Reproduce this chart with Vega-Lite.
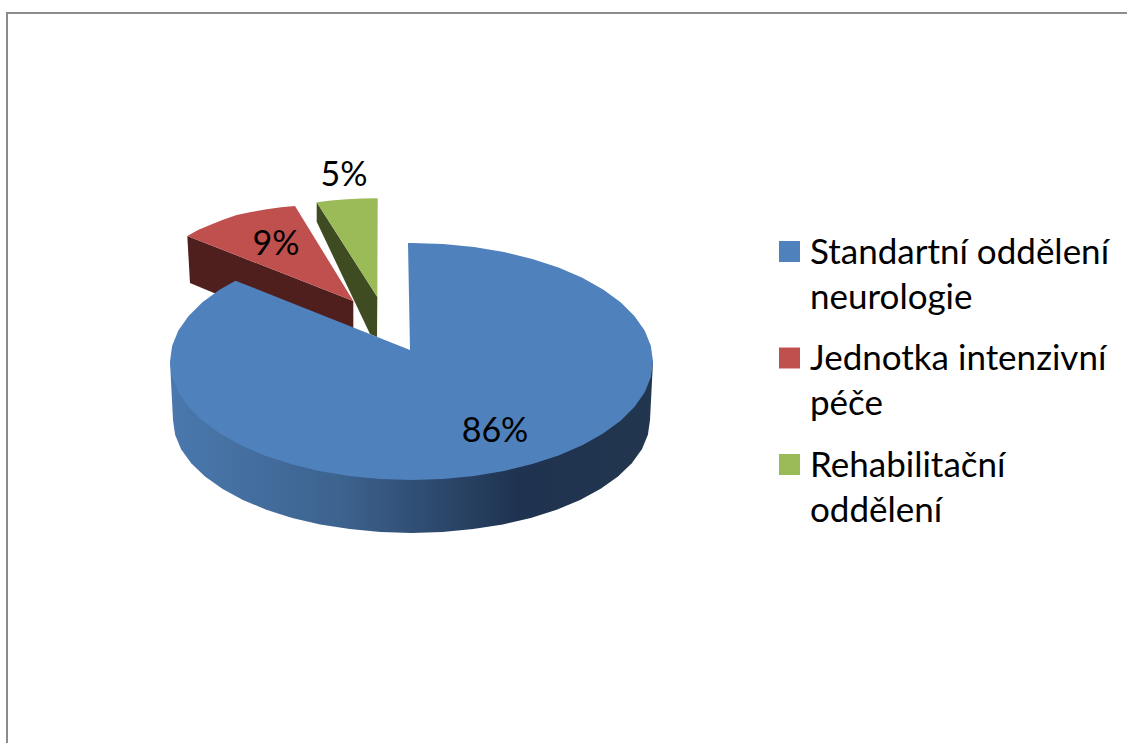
{
"$schema":"https://vega.github.io/schema/vega-lite/v6.json",
"width":1127,"height":743,"padding":0,
"autosize":{"type":"none"},
"background":"white",
"config":{"view":{"stroke":null}},
"encoding":{
"x":{"field":"x","type":"quantitative","axis":null,"scale":{"domain":[-411.5,715.5],"nice":false,"zero":false}},
"y":{"field":"y","type":"quantitative","axis":null,"scale":{"domain":[-381.5,361.5],"nice":false,"zero":false}},
"order":{"field":"i","type":"quantitative"}
},
"layer":[
{"data":{"values":[{"i":1,"x":-404.5,"y":-381.5},{"i":2,"x":-404.5,"y":348.5},{"i":3,"x":715.5,"y":348.5}]},
"mark":{"type":"line","stroke":"#8c8c8c","strokeWidth":2}},
{"data":{"values":[{"i":1,"x":-94.8,"y":159.2},{"i":2,"x":-94.8,"y":139.8},{"i":3,"x":-41.5,"y":27.5},{"i":4,"x":-34.5,"y":24.5},{"i":5,"x":-34.2,"y":64.5}]},
"mark":{"type":"line","filled":true,"fill":"#3f4b21","stroke":null}},
{"data":{"values":[{"oddeleni":"Rehabilitační oddělení","i":1,"x":-94.8,"y":159.2},{"oddeleni":"Rehabilitační oddělení","i":2,"x":-80.5,"y":161},{"oddeleni":"Rehabilitační oddělení","i":3,"x":-64.8,"y":162.2},{"oddeleni":"Rehabilitační oddělení","i":4,"x":-49.5,"y":162.9},{"oddeleni":"Rehabilitační oddělení","i":5,"x":-33.8,"y":163.2},{"oddeleni":"Rehabilitační oddělení","i":6,"x":-34.2,"y":64.5}]},
"mark":{"type":"line","filled":true,"stroke":null},
"encoding":{"color":{"field":"oddeleni","type":"nominal","scale":{"domain":["Standartní oddělení neurologie","Jednotka intenzivní péče","Rehabilitační oddělení"],"range":["#4f81bd","#c0504d","#9bbb59"]},
"legend":{"title":null,"orient":"none","legendX":772,"legendY":234,"padding":0,"symbolType":"square","symbolSize":441,"symbolStrokeWidth":0,"labelFont":"Lato","labelFontSize":35,"labelColor":"black","labelOffset":3,"labelLimit":400,"rowPadding":24.5,"labelBaseline":"top",
"encoding":{"labels":{"lineHeight":{"value":45},"dy":{"value":-16}}},
"labelExpr":"datum.label == 'Standartní oddělení neurologie' ? ['Standartní oddělení','neurologie'] : datum.label == 'Jednotka intenzivní péče' ? ['Jednotka intenzivní','péče'] : ['Rehabilitační','oddělení']"}}}},
{"data":{"values":[{"i":1,"x":-224.2,"y":125.5},{"i":2,"x":-221.5,"y":78.5},{"i":3,"x":-58.2,"y":10.5},{"i":4,"x":-58.2,"y":60.5}]},
"mark":{"type":"line","filled":true,"fill":"#4f1f1e","stroke":null}},
{"data":{"values":[{"oddeleni":"Jednotka intenzivní péče","i":1,"x":-224.2,"y":125.5},{"oddeleni":"Jednotka intenzivní péče","i":2,"x":-213.5,"y":131.5},{"oddeleni":"Jednotka intenzivní péče","i":3,"x":-201.5,"y":136.5},{"oddeleni":"Jednotka intenzivní péče","i":4,"x":-188.5,"y":141.8},{"oddeleni":"Jednotka intenzivní péče","i":5,"x":-174.8,"y":146.5},{"oddeleni":"Jednotka intenzivní péče","i":6,"x":-160.5,"y":149.5},{"oddeleni":"Jednotka intenzivní péče","i":7,"x":-144.8,"y":152.2},{"oddeleni":"Jednotka intenzivní péče","i":8,"x":-130.5,"y":154.2},{"oddeleni":"Jednotka intenzivní péče","i":9,"x":-116.5,"y":155.5},{"oddeleni":"Jednotka intenzivní péče","i":10,"x":-58.2,"y":60.5}]},
"mark":{"type":"line","filled":true,"stroke":null},
"encoding":{"color":{"field":"oddeleni","type":"nominal"}}},
{"data":{"values":[{"i":1,"x":-241.5,"y":0},{"i":2,"x":-238.5,"y":-58.5},{"i":3,"x":-236.4,"y":-73.2},{"i":4,"x":-230.4,"y":-87.7},{"i":5,"x":-220.3,"y":-101.7},{"i":6,"x":-206.5,"y":-115},{"i":7,"x":-189.2,"y":-127.3},{"i":8,"x":-168.6,"y":-138.4},{"i":9,"x":-145.2,"y":-148.2},{"i":10,"x":-119.3,"y":-156.4},{"i":11,"x":-91.3,"y":-162.9},{"i":12,"x":-61.7,"y":-167.6},{"i":13,"x":-31.1,"y":-170.5},{"i":14,"x":0,"y":-171.5},{"i":15,"x":31.1,"y":-170.5},{"i":16,"x":61.7,"y":-167.6},{"i":17,"x":91.3,"y":-162.9},{"i":18,"x":119.3,"y":-156.4},{"i":19,"x":145.2,"y":-148.2},{"i":20,"x":168.6,"y":-138.4},{"i":21,"x":189.2,"y":-127.3},{"i":22,"x":206.5,"y":-115},{"i":23,"x":220.3,"y":-101.7},{"i":24,"x":230.4,"y":-87.7},{"i":25,"x":236.4,"y":-73.2},{"i":26,"x":238.5,"y":-58.5},{"i":27,"x":241.5,"y":0}]},
"mark":{"type":"line","filled":true,"stroke":null,"fill":{"gradient":"linear","x1":0,"y1":0,"x2":1,"y2":0,"stops":[{"offset":0,"color":"#4a78ad"},{"offset":0.35,"color":"#3d638f"},{"offset":0.72,"color":"#1f3350"},{"offset":1,"color":"#22364f"}]}}},
{"data":{"values":[
{"oddeleni":"Standartní oddělení neurologie","i":1,"x":-1.5,"y":11.5},{"oddeleni":"Standartní oddělení neurologie","i":2,"x":-3.5,"y":118.5},{"oddeleni":"Standartní oddělení neurologie","i":3,"x":0,"y":118.5},{"oddeleni":"Standartní oddělení neurologie","i":4,"x":31.5,"y":117.5},{"oddeleni":"Standartní oddělení neurologie","i":5,"x":62.5,"y":114.5},{"oddeleni":"Standartní oddělení neurologie","i":6,"x":92.4,"y":109.5},{"oddeleni":"Standartní oddělení neurologie","i":7,"x":120.8,"y":102.6},{"oddeleni":"Standartní oddělení neurologie","i":8,"x":147,"y":94},{"oddeleni":"Standartní oddělení neurologie","i":9,"x":170.8,"y":83.8},{"oddeleni":"Standartní oddělení neurologie","i":10,"x":191.6,"y":72.1},{"oddeleni":"Standartní oddělení neurologie","i":11,"x":209.1,"y":59.3},{"oddeleni":"Standartní oddělení neurologie","i":12,"x":223.1,"y":45.3},{"oddeleni":"Standartní oddělení neurologie","i":13,"x":233.3,"y":30.7},{"oddeleni":"Standartní oddělení neurologie","i":14,"x":239.4,"y":15.5},{"oddeleni":"Standartní oddělení neurologie","i":15,"x":241.5,"y":0},{"oddeleni":"Standartní oddělení neurologie","i":16,"x":239.4,"y":-15.5},{"oddeleni":"Standartní oddělení neurologie","i":17,"x":233.3,"y":-30.7},{"oddeleni":"Standartní oddělení neurologie","i":18,"x":223.1,"y":-45.3},{"oddeleni":"Standartní oddělení neurologie","i":19,"x":209.1,"y":-59.3},{"oddeleni":"Standartní oddělení neurologie","i":20,"x":191.6,"y":-72.1},{"oddeleni":"Standartní oddělení neurologie","i":21,"x":170.8,"y":-83.8},{"oddeleni":"Standartní oddělení neurologie","i":22,"x":147,"y":-94},{"oddeleni":"Standartní oddělení neurologie","i":23,"x":120.8,"y":-102.6},{"oddeleni":"Standartní oddělení neurologie","i":24,"x":92.4,"y":-109.5},{"oddeleni":"Standartní oddělení neurologie","i":25,"x":62.5,"y":-114.5},{"oddeleni":"Standartní oddělení neurologie","i":26,"x":31.5,"y":-117.5},{"oddeleni":"Standartní oddělení neurologie","i":27,"x":0,"y":-118.5},{"oddeleni":"Standartní oddělení neurologie","i":28,"x":-31.5,"y":-117.5},{"oddeleni":"Standartní oddělení neurologie","i":29,"x":-62.5,"y":-114.5},{"oddeleni":"Standartní oddělení neurologie","i":30,"x":-92.4,"y":-109.5},{"oddeleni":"Standartní oddělení neurologie","i":31,"x":-120.8,"y":-102.6},{"oddeleni":"Standartní oddělení neurologie","i":32,"x":-147,"y":-94},{"oddeleni":"Standartní oddělení neurologie","i":33,"x":-170.8,"y":-83.8},{"oddeleni":"Standartní oddělení neurologie","i":34,"x":-191.6,"y":-72.1},{"oddeleni":"Standartní oddělení neurologie","i":35,"x":-209.1,"y":-59.3},{"oddeleni":"Standartní oddělení neurologie","i":36,"x":-223.1,"y":-45.3},{"oddeleni":"Standartní oddělení neurologie","i":37,"x":-233.3,"y":-30.7},{"oddeleni":"Standartní oddělení neurologie","i":38,"x":-239.4,"y":-15.5},{"oddeleni":"Standartní oddělení neurologie","i":39,"x":-241.5,"y":0},{"oddeleni":"Standartní oddělení neurologie","i":40,"x":-239.4,"y":15.5},{"oddeleni":"Standartní oddělení neurologie","i":41,"x":-233.3,"y":30.7},{"oddeleni":"Standartní oddělení neurologie","i":42,"x":-223.1,"y":45.3},{"oddeleni":"Standartní oddělení neurologie","i":43,"x":-209.1,"y":59.3},{"oddeleni":"Standartní oddělení neurologie","i":44,"x":-191.6,"y":72.1},{"oddeleni":"Standartní oddělení neurologie","i":45,"x":-176,"y":80.8}
]},
"mark":{"type":"line","filled":true,"stroke":null},
"encoding":{"color":{"field":"oddeleni","type":"nominal"}}},
{"data":{"values":[{"podil":0.86,"x":83.5,"y":-70},{"podil":0.09,"x":-135.5,"y":117},{"podil":0.05,"x":-67.5,"y":185.5}]},
"mark":{"type":"text","font":"Lato","fontSize":34,"color":"black","align":"center","baseline":"middle"},
"encoding":{"order":null,"text":{"field":"podil","type":"quantitative","format":".0%"}}}
]
}
